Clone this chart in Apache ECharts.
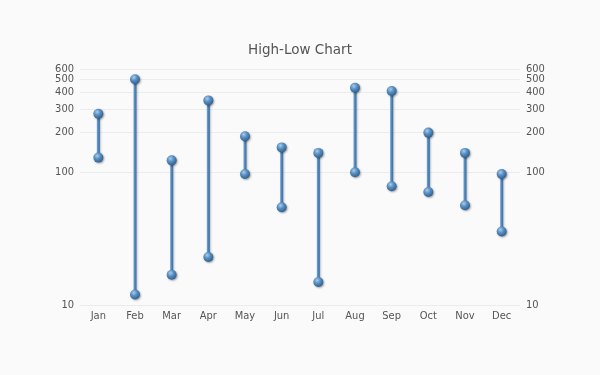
<!DOCTYPE html>
<html>
<head>
<meta charset="utf-8">
<script src="https://cdn.jsdelivr.net/npm/echarts@6/dist/echarts.min.js"></script>
<style>
html,body{margin:0;padding:0;background:#fafafa;}
#chart{width:600px;height:375px;}
</style>
</head>
<body>
<div id="chart"></div>
<script>
var categories = ['Jan','Feb','Mar','Apr','May','Jun','Jul','Aug','Sep','Oct','Nov','Dec'];
var highValues = [276, 503, 123, 348, 187, 154, 140, 433, 409, 199, 140, 97];
var lowValues  = [129, 12, 16.9, 23, 97, 54.5, 14.9, 100, 78.5, 71, 56.5, 35.8];
var yTicks = [10, 100, 200, 300, 400, 500, 600];
var yMin = 10, yMax = 600;

var L = function (v) { return Math.log10(v); };
var tickPos = yTicks.map(L);
var seriesData = categories.map(function (c, i) { return [i, L(lowValues[i]), L(highValues[i])]; });

var ballColor = {
  type: 'radial', x: 0.38, y: 0.32, r: 0.7,
  colorStops: [
    {offset: 0, color: '#a9cdeb'},
    {offset: 0.45, color: '#5a8fc2'},
    {offset: 1, color: '#2d5f91'}
  ]
};
var stickColor = {
  type: 'linear', x: 0, y: 0, x2: 1, y2: 0,
  colorStops: [
    {offset: 0, color: '#7aa8d6'},
    {offset: 0.5, color: '#4a84bd'},
    {offset: 1, color: '#3a6ea3'}
  ]
};
var labelFont = 'DejaVu Sans Condensed';

var chart = echarts.init(document.getElementById('chart'));
// labels split into two axes per side so neighbouring labels 500/600 are both kept
var yAxisBase = function (pos, values, showSplit) {
  return {
    type: 'value', position: pos,
    min: L(yMin), max: L(yMax),
    axisLine: {show: false},
    axisTick: {show: false, customValues: values},
    axisLabel: {
      customValues: values, margin: 6,
      showMinLabel: true, showMaxLabel: true,
      color: '#555', fontSize: 11, fontFamily: labelFont,
      formatter: function (v) { return String(Math.round(Math.pow(10, v))); }
    },
    splitLine: {show: showSplit, lineStyle: {color: '#ececec', width: 1}}
  };
};
var mainTicks = tickPos.slice(0, tickPos.length - 1);
var topTick = tickPos.slice(tickPos.length - 1);

chart.setOption({
  backgroundColor: '#fafafa',
  animation: false,
  title: {
    text: 'High-Low Chart', left: 'center', top: 38,
    textStyle: {color: '#555', fontSize: 13.5, fontWeight: 'normal', fontFamily: 'DejaVu Sans'}
  },
  grid: {left: 80, right: 80, top: 69, bottom: 70},
  xAxis: {
    type: 'category', data: categories,
    axisLine: {show: false}, axisTick: {show: false},
    axisLabel: {color: '#555', fontSize: 11, fontFamily: labelFont, margin: 6}
  },
  yAxis: [
    yAxisBase('left', mainTicks, true),
    yAxisBase('left', topTick, true),
    yAxisBase('right', mainTicks, false),
    yAxisBase('right', topTick, false)
  ],
  series: [{
    type: 'custom',
    yAxisIndex: 0,
    data: seriesData,
    encode: {x: 0, y: [1, 2]},
    renderItem: function (params, api) {
      var lo = api.coord([api.value(0), api.value(1)]);
      var hi = api.coord([api.value(0), api.value(2)]);
      var r = 5;
      return {
        type: 'group',
        children: [
          {type: 'rect', shape: {x: lo[0] - 1.5, y: hi[1], width: 3, height: lo[1] - hi[1]},
           style: {fill: stickColor, shadowBlur: 2, shadowOffsetX: 1, shadowOffsetY: 0, shadowColor: 'rgba(0,0,0,0.25)'}},
          {type: 'circle', shape: {cx: lo[0], cy: lo[1], r: r},
           style: {fill: ballColor, shadowBlur: 2, shadowOffsetX: 1, shadowOffsetY: 1, shadowColor: 'rgba(0,0,0,0.35)'}},
          {type: 'circle', shape: {cx: hi[0], cy: hi[1], r: r},
           style: {fill: ballColor, shadowBlur: 2, shadowOffsetX: 1, shadowOffsetY: 1, shadowColor: 'rgba(0,0,0,0.35)'}}
        ]
      };
    }
  }]
});
</script>
</body>
</html>
